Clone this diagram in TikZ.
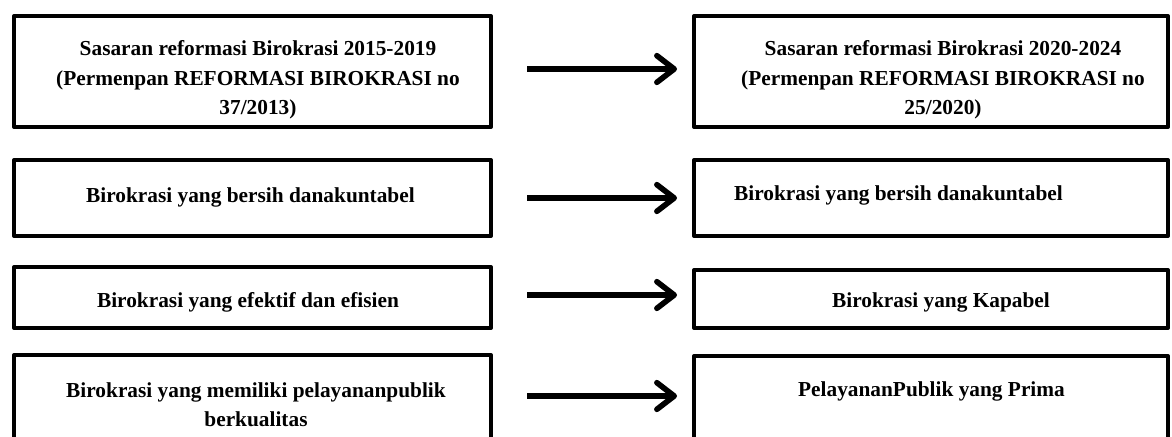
\documentclass[tikz,border=0pt]{standalone}
\usepackage{fontspec}
\setmainfont{Liberation Serif}
\usetikzlibrary{arrows.meta}
\begin{document}
\begin{tikzpicture}[x=0.75pt, y=-0.75pt,
    box/.style={draw=black, line width=3pt, line join=round, fill=white, inner sep=0pt},
    txt/.style={font=\fontsize{16}{22}\selectfont\bfseries, align=center, inner sep=0pt},
    arr/.style={line width=4.2pt, -{Straight Barb[length=13pt, width=20pt, round]}, shorten <=25.5pt, shorten >=11.25pt}]
        \useasboundingbox (0,0) rectangle (1172,436);
        % Left boxes
        \foreach \yc/\h [count=\i] in {71.5/83.25, 198/57, 297.5/45.75, 406.5/77.25} \node [box, minimum width=357.75pt, minimum height=\h pt] (left-\i) at (252.5,\yc) {};
        % Right boxes
        \foreach \yc/\h [count=\i] in {71.5/83.25, 198/57, 299/43.5, 407.5/77.25} \node [box, minimum width=355.5pt, minimum height=\h pt] (right-\i) at (931,\yc) {};
        % Texts
        \node [txt] (left-text-1) at (258,80) {Sasaran reformasi Birokrasi 2015-2019\\(Permenpan REFORMASI BIROKRASI no\\37/2013)};
        \node [txt] (right-text-1) at (943,80) {Sasaran reformasi Birokrasi 2020-2024\\(Permenpan REFORMASI BIROKRASI no\\25/2020)};
        \node [txt] (left-text-2) at (250.5,197) {Birokrasi yang bersih danakuntabel};
        \node [txt] (right-text-2) at (898.5,195) {Birokrasi yang bersih danakuntabel};
        \node [txt] (left-text-3) at (248,302) {Birokrasi yang efektif dan efisien};
        \node [txt] (right-text-3) at (941,302) {Birokrasi yang Kapabel};
        \node [txt] (left-text-4) at (256,405) {Birokrasi yang memiliki pelayananpublik\\berkualitas};
        \node [txt] (right-text-4) at (931.5,391) {PelayananPublik yang Prima};
        % Connect left to right boxes
        \foreach \s [count=\i] in {1.875,0,1.875,7.875} \draw[arr] ([yshift=\s pt]left-\i.east) -- ([yshift=\s pt]left-\i.east -| right-\i.west);
\end{tikzpicture}
\end{document}
